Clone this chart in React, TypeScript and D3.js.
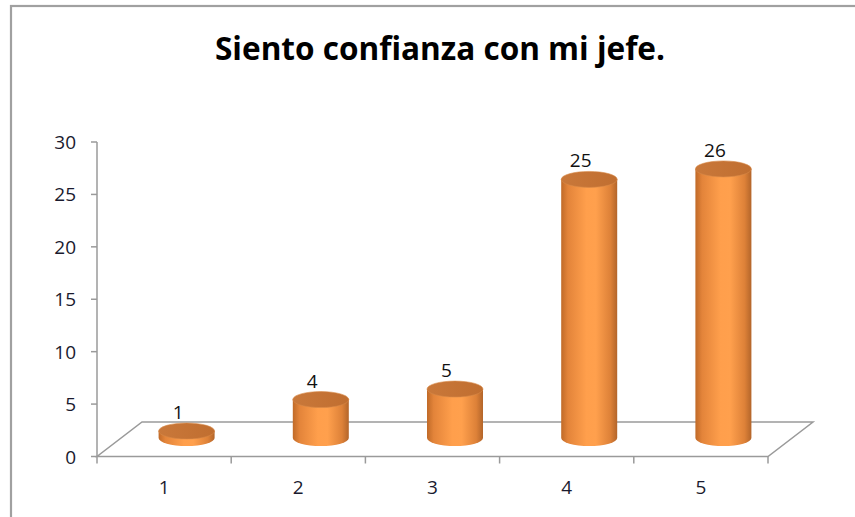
import React from "react";
import * as d3 from "d3";

const categories = ["1", "2", "3", "4", "5"];
const values = [1, 4, 5, 25, 26];
const yTicks = [0, 5, 10, 15, 20, 25, 30];
const title = "Siento confianza con mi jefe.";

const W = 855;
const H = 517;

export default function App() {
  const x = d3.scaleBand<string>().domain(categories).range([97, 768]).paddingInner(0).paddingOuter(0);
  const y = d3.scaleLinear().domain([0, 30]).range([456.5, 142]);
  const depthX = 45;
  const depthY = -34.5;
  const rx = 28;
  const ry = 8;
  const barShift = depthX / 2;
  const barTopCenter = (v: number) => y(v) - 15;
  const botCenter = 438;
  const font = "'Open Sans', 'Liberation Sans', sans-serif";
  const axisColor = "#9a9a9a";

  const floor = [
    [97, y(0)],
    [768, y(0)],
    [768 + depthX, y(0) + depthY],
    [97 + depthX, y(0) + depthY],
  ];

  return (
    <svg width={W} height={H} style={{ position: "absolute", left: 0, top: 0, background: "#fff" }}>
      <defs>
        <linearGradient id="side" x1="0" x2="1" y1="0" y2="0">
          <stop offset="0%" stopColor="#c06a28" />
          <stop offset="12%" stopColor="#e3843a" />
          <stop offset="45%" stopColor="#ff9f4c" />
          <stop offset="62%" stopColor="#ffa04d" />
          <stop offset="88%" stopColor="#dd8138" />
          <stop offset="100%" stopColor="#b3652a" />
        </linearGradient>
        <linearGradient id="top" x1="0" x2="1" y1="0" y2="0">
          <stop offset="0%" stopColor="#c9783a" />
          <stop offset="100%" stopColor="#c06e30" />
        </linearGradient>
      </defs>

      {/* outer frame */}
      <rect x={11} y={6} width={W + 20} height={H + 20} fill="none" stroke="#a0a0a0" strokeWidth={2.2} />

      {/* title */}
      <text
        x={440}
        y={60}
        textAnchor="middle"
        fontFamily={font}
        fontWeight={700}
        fontSize={33}
        textLength={450}
        lengthAdjust="spacingAndGlyphs"
        fill="#000"
      >
        {title}
      </text>

      {/* floor */}
      <polygon
        points={floor.map((p) => p.join(",")).join(" ")}
        fill="none"
        stroke={axisColor}
        strokeWidth={1.5}
      />

      {/* y axis */}
      <line x1={97} x2={97} y1={y(30)} y2={y(0)} stroke={axisColor} strokeWidth={1.5} />
      {yTicks.map((t) => (
        <g key={t}>
          <line x1={91} x2={97} y1={y(t)} y2={y(t)} stroke={axisColor} strokeWidth={1.5} />
          <text
            x={76}
            y={y(t) + 7}
            textAnchor="end"
            fontFamily={font}
            fontSize={19}
            fill="#1a1a2e"
          >
            {t}
          </text>
        </g>
      ))}

      {/* x axis ticks and labels */}
      {[...categories.map((c) => x(c) as number), 768].map((px, i) => (
        <line key={"xt" + i} x1={px} x2={px} y1={y(0)} y2={y(0) + 7} stroke={axisColor} strokeWidth={1.5} />
      ))}
      {categories.map((c) => (
        <text
          key={"xl" + c}
          x={(x(c) as number) + x.bandwidth() / 2}
          y={494}
          textAnchor="middle"
          fontFamily={font}
          fontSize={19}
          fill="#1a1a2e"
        >
          {c}
        </text>
      ))}

      {/* cylinders */}
      {categories.map((c, i) => {
        const cx = (x(c) as number) + x.bandwidth() / 2 + barShift;
        const tc = barTopCenter(values[i]);
        const side = `M${cx - rx},${tc} L${cx - rx},${botCenter} A${rx},${ry} 0 0 0 ${cx + rx},${botCenter} L${cx + rx},${tc} Z`;
        return (
          <g key={"bar" + c}>
            <path d={side} fill="url(#side)" />
            <ellipse cx={cx} cy={tc} rx={rx} ry={ry} fill="url(#top)" stroke="#d98a48" strokeWidth={0.6} />
            <text
              x={cx - 8.5}
              y={tc - ry - 4}
              textAnchor="middle"
              fontFamily={font}
              fontSize={19}
              fill="#111"
            >
              {values[i]}
            </text>
          </g>
        );
      })}
    </svg>
  );
}
